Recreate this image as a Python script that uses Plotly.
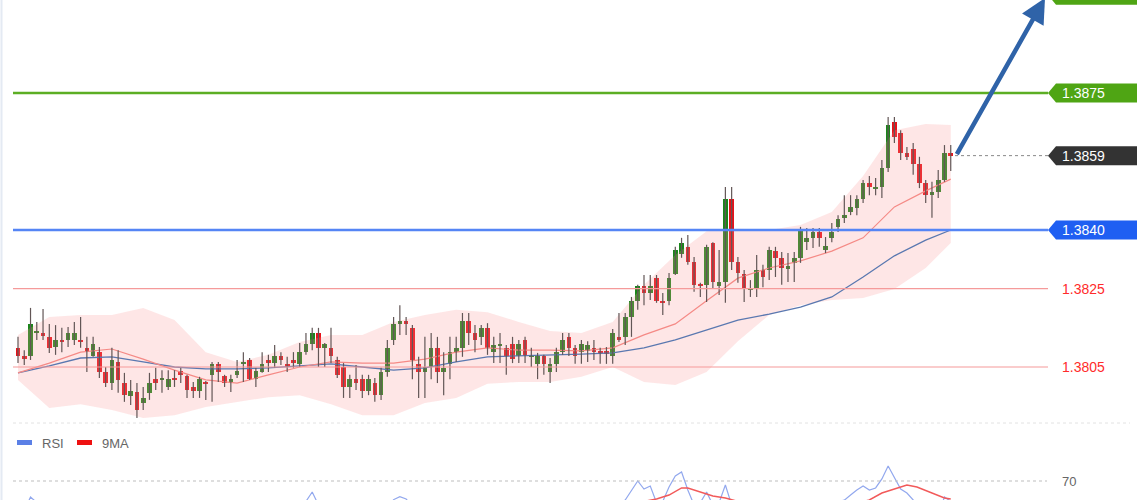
import plotly.graph_objects as go

# ---------------- data ----------------
open_ = [1.38099, 1.38078, 1.38078, 1.38137, 1.38137, 1.38127, 1.38101, 1.38119, 1.38119, 1.38119,
         1.38119, 1.38099, 1.38078, 1.38088, 1.38037, 1.38009, 1.38063, 1.38009, 1.37976, 1.37986,
         1.37958, 1.37984, 1.38019, 1.38019, 1.37999, 1.38022, 1.38040, 1.38027, 1.37999, 1.37989,
         1.38012, 1.38030, 1.38058, 1.38027, 1.38009, 1.38030, 1.38058, 1.38068, 1.38019, 1.38037,
         1.38068, 1.38060, 1.38078, 1.38058, 1.38068, 1.38058, 1.38088, 1.38109, 1.38137, 1.38099,
         1.38099, 1.38068, 1.38050, 1.37999, 1.38019, 1.38019, 1.37989, 1.38009, 1.37978, 1.38037,
         1.38119, 1.38160, 1.38168, 1.38150, 1.38058, 1.38037, 1.38050, 1.38099, 1.38037, 1.38058,
         1.38088, 1.38099, 1.38168, 1.38137, 1.38127, 1.38150, 1.38088, 1.38106, 1.38099, 1.38109,
         1.38078, 1.38119, 1.38076, 1.38058, 1.38078, 1.38037, 1.38058, 1.38088, 1.38127, 1.38099,
         1.38088, 1.38091, 1.38099, 1.38088, 1.38091, 1.38078, 1.38127, 1.38127, 1.38178, 1.38219,
         1.38257, 1.38239, 1.38277, 1.38219, 1.38219, 1.38288, 1.38339, 1.38357, 1.38318, 1.38260,
         1.38260, 1.38367, 1.38257, 1.38267, 1.38479, 1.38318, 1.38288, 1.38247, 1.38252, 1.38298,
         1.38298, 1.38346, 1.38329, 1.38300, 1.38316, 1.38329, 1.38369, 1.38380, 1.38395, 1.38349,
         1.38380, 1.38408, 1.38433, 1.38446, 1.38456, 1.38479, 1.38520, 1.38507, 1.38510, 1.38558,
         1.38676, 1.38648, 1.38597, 1.38607, 1.38569, 1.38520, 1.38489, 1.38497, 1.38528, 1.38598]
high_ = [1.38127, 1.38093, 1.38201, 1.38165, 1.38198, 1.38160, 1.38157, 1.38150, 1.38152, 1.38165,
         1.38178, 1.38127, 1.38127, 1.38101, 1.38050, 1.38099, 1.38093, 1.38035, 1.38017, 1.38009,
         1.37999, 1.38035, 1.38048, 1.38042, 1.38042, 1.38042, 1.38048, 1.38030, 1.38012, 1.38025,
         1.38014, 1.38063, 1.38063, 1.38030, 1.38030, 1.38068, 1.38088, 1.38073, 1.38048, 1.38088,
         1.38081, 1.38106, 1.38088, 1.38076, 1.38088, 1.38111, 1.38137, 1.38150, 1.38150, 1.38111,
         1.38150, 1.38076, 1.38060, 1.38030, 1.38055, 1.38030, 1.38030, 1.38022, 1.38048, 1.38119,
         1.38178, 1.38208, 1.38178, 1.38157, 1.38076, 1.38127, 1.38137, 1.38127, 1.38088, 1.38127,
         1.38127, 1.38188, 1.38188, 1.38157, 1.38157, 1.38162, 1.38127, 1.38137, 1.38106, 1.38127,
         1.38119, 1.38127, 1.38099, 1.38086, 1.38081, 1.38073, 1.38099, 1.38137, 1.38137, 1.38106,
         1.38119, 1.38116, 1.38119, 1.38099, 1.38101, 1.38147, 1.38188, 1.38188, 1.38229, 1.38260,
         1.38285, 1.38285, 1.38285, 1.38239, 1.38290, 1.38357, 1.38380, 1.38387, 1.38331, 1.38265,
         1.38362, 1.38369, 1.38349, 1.38510, 1.38510, 1.38331, 1.38298, 1.38272, 1.38336, 1.38311,
         1.38357, 1.38357, 1.38344, 1.38341, 1.38344, 1.38408, 1.38405, 1.38405, 1.38405, 1.38382,
         1.38418, 1.38438, 1.38489, 1.38489, 1.38489, 1.38528, 1.38538, 1.38533, 1.38579, 1.38689,
         1.38689, 1.38655, 1.38612, 1.38622, 1.38587, 1.38528, 1.38523, 1.38553, 1.38617, 1.38617]
low_ = [1.38060, 1.38055, 1.38068, 1.38119, 1.38119, 1.38086, 1.38081, 1.38088, 1.38101, 1.38106,
        1.38099, 1.38037, 1.38076, 1.38022, 1.37999, 1.37991, 1.37984, 1.37961, 1.37953, 1.37920,
        1.37940, 1.37966, 1.37991, 1.37984, 1.37991, 1.37999, 1.38009, 1.37971, 1.37971, 1.37971,
        1.37966, 1.37961, 1.38012, 1.37999, 1.37986, 1.38022, 1.38012, 1.38017, 1.37999, 1.38035,
        1.38037, 1.38048, 1.38055, 1.38037, 1.38048, 1.38050, 1.38081, 1.38093, 1.38050, 1.38050,
        1.38060, 1.38022, 1.37971, 1.37971, 1.37991, 1.37971, 1.37978, 1.37961, 1.37966, 1.38025,
        1.38106, 1.38132, 1.38132, 1.38019, 1.37971, 1.37971, 1.38019, 1.38009, 1.37978, 1.38019,
        1.38063, 1.38076, 1.38106, 1.38088, 1.38106, 1.38081, 1.38060, 1.38060, 1.38030, 1.38060,
        1.38060, 1.38060, 1.38050, 1.38019, 1.38030, 1.38009, 1.38037, 1.38081, 1.38078, 1.38058,
        1.38058, 1.38063, 1.38068, 1.38058, 1.38058, 1.38058, 1.38114, 1.38106, 1.38127, 1.38196,
        1.38208, 1.38221, 1.38214, 1.38183, 1.38208, 1.38285, 1.38329, 1.38311, 1.38242, 1.38229,
        1.38216, 1.38252, 1.38234, 1.38214, 1.38298, 1.38265, 1.38216, 1.38229, 1.38229, 1.38254,
        1.38272, 1.38280, 1.38260, 1.38267, 1.38267, 1.38316, 1.38349, 1.38354, 1.38357, 1.38341,
        1.38369, 1.38395, 1.38418, 1.38438, 1.38438, 1.38469, 1.38489, 1.38489, 1.38482, 1.38548,
        1.38622, 1.38579, 1.38579, 1.38541, 1.38507, 1.38469, 1.38431, 1.38482, 1.38523, 1.38551]
close_ = [1.38078, 1.38070, 1.38160, 1.38139, 1.38129, 1.38099, 1.38119, 1.38116, 1.38137, 1.38137,
          1.38116, 1.38088, 1.38109, 1.38037, 1.38009, 1.38068, 1.38017, 1.37978, 1.37989, 1.37940,
          1.37971, 1.38009, 1.38009, 1.38022, 1.38019, 1.38019, 1.38030, 1.37991, 1.37989, 1.38019,
          1.38009, 1.38058, 1.38037, 1.38009, 1.38019, 1.38040, 1.38060, 1.38019, 1.38040, 1.38058,
          1.38060, 1.38078, 1.38068, 1.38050, 1.38060, 1.38088, 1.38109, 1.38137, 1.38099, 1.38109,
          1.38078, 1.38030, 1.37999, 1.38019, 1.38009, 1.37989, 1.38019, 1.37978, 1.38037, 1.38099,
          1.38160, 1.38168, 1.38160, 1.38068, 1.38037, 1.38050, 1.38099, 1.38037, 1.38048, 1.38088,
          1.38099, 1.38168, 1.38137, 1.38119, 1.38150, 1.38099, 1.38106, 1.38109, 1.38078, 1.38070,
          1.38109, 1.38078, 1.38078, 1.38078, 1.38058, 1.38058, 1.38088, 1.38119, 1.38099, 1.38078,
          1.38109, 1.38106, 1.38088, 1.38086, 1.38083, 1.38137, 1.38119, 1.38178, 1.38219, 1.38257,
          1.38239, 1.38257, 1.38219, 1.38216, 1.38277, 1.38349, 1.38367, 1.38318, 1.38260, 1.38257,
          1.38357, 1.38267, 1.38267, 1.38479, 1.38318, 1.38290, 1.38249, 1.38249, 1.38298, 1.38280,
          1.38349, 1.38329, 1.38303, 1.38308, 1.38329, 1.38397, 1.38380, 1.38395, 1.38380, 1.38359,
          1.38395, 1.38428, 1.38438, 1.38459, 1.38479, 1.38520, 1.38510, 1.38510, 1.38558, 1.38668,
          1.38638, 1.38597, 1.38587, 1.38569, 1.38520, 1.38489, 1.38497, 1.38528, 1.38597, 1.38590]

# indicator lines, read at every 5th bar
band_idx = [0, 5, 10, 15, 20, 25, 30, 35, 40, 45, 50, 55, 60, 65, 70, 75, 80, 85, 90, 95,
            100, 105, 110, 115, 120, 125, 130, 135, 140, 145, 149]
band_upper = [1.38132, 1.38178, 1.38183, 1.38183, 1.38201, 1.38170, 1.38088, 1.38063, 1.38081, 1.38114,
              1.38132, 1.38132, 1.38165, 1.38183, 1.38196, 1.38190, 1.38165, 1.38142, 1.38137, 1.38165,
              1.38260, 1.38336, 1.38397, 1.38403, 1.38400, 1.38413, 1.38446, 1.38538, 1.38655, 1.38671,
              1.38668]
band_lower = [1.38017, 1.37945, 1.37955, 1.37940, 1.37920, 1.37927, 1.37948, 1.37961, 1.37973, 1.37978,
              1.37955, 1.37927, 1.37927, 1.37958, 1.37971, 1.38007, 1.38012, 1.38012, 1.38025, 1.38050,
              1.38012, 1.38004, 1.38037, 1.38116, 1.38183, 1.38208, 1.38221, 1.38226, 1.38249, 1.38303,
              1.38367]
ma_fast = [1.38035, 1.38060, 1.38088, 1.38096, 1.38070, 1.38042, 1.38017, 1.38009, 1.38030, 1.38050,
           1.38063, 1.38060, 1.38060, 1.38070, 1.38088, 1.38099, 1.38093, 1.38093, 1.38091, 1.38099,
           1.38132, 1.38160, 1.38219, 1.38277, 1.38303, 1.38321, 1.38346, 1.38380, 1.38459, 1.38500,
           1.38530]
ma_slow = [1.38035, 1.38053, 1.38073, 1.38076, 1.38063, 1.38050, 1.38045, 1.38045, 1.38048, 1.38053,
           1.38058, 1.38050, 1.38042, 1.38048, 1.38063, 1.38076, 1.38078, 1.38081, 1.38083, 1.38086,
           1.38099, 1.38119, 1.38145, 1.38170, 1.38185, 1.38203, 1.38229, 1.38280, 1.38334, 1.38374,
           1.38400]

rsi = [48, 45, 56.7, 52, 50, 46, 48, 47, 50, 51,
       49, 44, 47, 40, 36, 44, 40, 34, 37, 31,
       35, 42, 41, 42, 44, 45, 47, 42, 40, 44,
       44, 50, 47, 44, 45, 49, 51, 46, 49, 51,
       51, 53, 51, 49, 50, 52, 53, 60.8, 50, 52,
       50, 47, 42, 38, 43, 42, 39, 43, 40, 46,
       54.5, 57, 55, 49, 45, 47, 51, 46, 48, 50,
       51, 53, 53, 51, 50, 52, 48, 50, 50, 46,
       48, 49, 47, 48, 47, 46, 44, 47, 50, 49,
       47, 49, 49, 48, 48, 52, 51, 54.2, 62.5, 70,
       63.3, 65.8, 52, 53, 65, 74.2, 77.5, 62.5, 50, 52,
       60.8, 50, 52, 66.7, 50, 46, 42, 44, 48, 46,
       52, 48, 45, 46, 48, 53, 52, 53, 51, 46,
       51, 53, 54, 58.3, 62.5, 65.8, 62.5, 64.2, 71.7, 82.5,
       72.5, 63.3, 60, 54.2, 50, 44, 40, 42, 56.7, 53]
ma9_idx = [0, 20, 40, 60, 80, 95, 100, 102, 104, 106, 107, 109.5, 111, 113, 115, 125, 133, 136,
           138, 140, 142, 143.6, 147, 148, 149]
ma9 = [47, 42, 48, 48, 50, 50, 53, 55, 58.3, 64.2, 64.2, 60, 57.5, 55.8, 53, 48, 50, 54.2,
       60, 63.3, 66.7, 65, 57.5, 55.8, 55]

levels_green = [1.3875, 1.3900]
level_blue = 1.3840
levels_red = [1.3825, 1.3805]
last_price = 1.3859
rsi_level = 70

# ---------------- geometry helpers ----------------
W, H = 1140, 500
X_PX0, X_STEP = 18.0, 6.26          # pixel of first bar, pixels per bar
Y_REF_PX, Y_REF_P, PX_PER_P = 93.0, 1.3875, 39143.0
RSI_REF_PX, RSI_PX_PER = 481.0, 1.2

x_range = [(0 - X_PX0) / X_STEP, (W - X_PX0) / X_STEP]
y_range = [Y_REF_P - (H - Y_REF_PX) / PX_PER_P, Y_REF_P + Y_REF_PX / PX_PER_P]
r_range = [rsi_level - (H - RSI_REF_PX) / RSI_PX_PER, rsi_level + RSI_REF_PX / RSI_PX_PER]


def px(xp):
    return xp / W


def py(yp):
    return 1 - yp / H


idx = list(range(len(open_)))
GREEN_C, RED_C = "#1a861a", "#e8121a"

fig = go.Figure()

# Bollinger band fill
fig.add_trace(go.Scatter(x=band_idx, y=band_upper, mode="lines", line=dict(width=0, color="rgba(0,0,0,0)"),
                         hoverinfo="skip"))
fig.add_trace(go.Scatter(x=band_idx, y=band_lower, mode="lines", line=dict(width=0, color="rgba(0,0,0,0)"),
                         fill="tonexty", fillcolor="rgba(250,150,150,0.24)", hoverinfo="skip"))
# moving averages
fig.add_trace(go.Scatter(x=band_idx, y=ma_slow, mode="lines", line=dict(width=1.3, color="#5a78b0")))
fig.add_trace(go.Scatter(x=band_idx, y=ma_fast, mode="lines", line=dict(width=1.2, color="#f58a86")))

# wicks
wx, wy = [], []
for i in idx:
    wx += [i, i, None]
    wy += [low_[i], high_[i], None]
fig.add_trace(go.Scatter(x=wx, y=wy, mode="lines", line=dict(width=1.2, color="#625656"), hoverinfo="skip"))

# bodies
base = [min(o, c) for o, c in zip(open_, close_)]
hgt = [max(abs(c - o), 0.00003) for o, c in zip(open_, close_)]
cols = [GREEN_C if c >= o else RED_C for o, c in zip(open_, close_)]
fig.add_trace(go.Bar(x=idx, y=hgt, base=base, width=0.74, marker=dict(color=cols, line=dict(width=0))))

# RSI panel
fig.add_trace(go.Scatter(x=idx, y=rsi, mode="lines", yaxis="y2", line=dict(width=1.2, color="#92a8ee")))
fig.add_trace(go.Scatter(x=ma9_idx, y=ma9, mode="lines", yaxis="y2", line=dict(width=1.5, color="#f25a5a")))

shapes = []
LINE_X0, LINE_X1 = px(13), px(1048)
# red levels
for lv in levels_red:
    shapes.append(dict(type="line", xref="paper", yref="y", x0=LINE_X0, x1=LINE_X1, y0=lv, y1=lv,
                       line=dict(color="#f59a9a", width=1.2), layer="above"))
# green & blue levels
shapes.append(dict(type="line", xref="paper", yref="y", x0=LINE_X0, x1=LINE_X1, y0=levels_green[0],
                   y1=levels_green[0], line=dict(color="#5cae24", width=2.5), layer="above"))
shapes.append(dict(type="line", xref="paper", yref="y", x0=LINE_X0, x1=LINE_X1, y0=level_blue,
                   y1=level_blue, line=dict(color="#5585f5", width=2.5), layer="above"))
# last price dotted
shapes.append(dict(type="line", xref="paper", yref="y", x0=px(955), x1=px(1048), y0=last_price,
                   y1=last_price, line=dict(color="#888888", width=1, dash="dot"), layer="above"))
# separators (RSI)
shapes.append(dict(type="line", xref="paper", yref="paper", x0=px(13), x1=px(1130), y0=py(423), y1=py(423),
                   line=dict(color="#e2e2e2", width=1, dash="dot")))
shapes.append(dict(type="line", xref="paper", yref="y2", x0=px(13), x1=px(1047), y0=rsi_level, y1=rsi_level,
                   line=dict(color="#bdbdbd", width=1, dash="dot")))
# left border
shapes.append(dict(type="line", xref="paper", yref="paper", x0=px(1.5), x1=px(1.5), y0=0, y1=1,
                   line=dict(color="#e4eaf3", width=2)))

# price label boxes
HALF = 9.5 / PX_PER_P
TIP, BL, BR = px(1048), px(1056), px(1137)


def label_path(yc):
    return (f"M {TIP},{yc} L {BL},{yc + HALF} L {BR},{yc + HALF} "
            f"L {BR},{yc - HALF} L {BL},{yc - HALF} Z")


for yc, colr in [(levels_green[1], "#4fa514"), (levels_green[0], "#4fa514"),
                 (last_price, "#333333"), (level_blue, "#1f5ff2")]:
    shapes.append(dict(type="path", xref="paper", yref="y", path=label_path(yc),
                       fillcolor=colr, line=dict(width=0), layer="above"))

# legend swatches
shapes.append(dict(type="rect", xref="paper", yref="paper", x0=px(17), x1=px(32), y0=py(445), y1=py(440),
                   fillcolor="#5b80e6", line=dict(width=0)))
shapes.append(dict(type="rect", xref="paper", yref="paper", x0=px(77), x1=px(92), y0=py(445), y1=py(440),
                   fillcolor="#ee1111", line=dict(width=0)))

FONT = "Liberation Sans, Arial, sans-serif"
ann = []
for val, colr in [(levels_green[0], "white"), (last_price, "white"), (level_blue, "white")]:
    ann.append(dict(xref="paper", yref="y", x=px(1060), y=val, text=f"{val:.4f}", showarrow=False,
                    xanchor="left", yanchor="middle", font=dict(family=FONT, size=14, color=colr)))
for val in levels_red:
    ann.append(dict(xref="paper", yref="y", x=px(1060), y=val, text=f"{val:.4f}", showarrow=False,
                    xanchor="left", yanchor="middle", font=dict(family=FONT, size=14, color="#ff2b2b")))
ann.append(dict(xref="paper", yref="y2", x=px(1060), y=rsi_level, text=str(rsi_level), showarrow=False,
                xanchor="left", yanchor="middle", font=dict(family=FONT, size=13, color="#666666")))
ann.append(dict(xref="paper", yref="paper", x=px(40), y=py(443), text="RSI", showarrow=False,
                xanchor="left", yanchor="middle", font=dict(family=FONT, size=13, color="#666666")))
ann.append(dict(xref="paper", yref="paper", x=px(100), y=py(443), text="9MA", showarrow=False,
                xanchor="left", yanchor="middle", font=dict(family=FONT, size=13, color="#666666")))
# forecast arrow
ann.append(dict(xref="x", yref="y", axref="x", ayref="y",
                x=(1045 - X_PX0) / X_STEP, y=Y_REF_P + (Y_REF_PX + 2) / PX_PER_P,
                ax=(956 - X_PX0) / X_STEP, ay=last_price, text="", showarrow=True,
                arrowhead=2, arrowsize=1.1, arrowwidth=4.5, arrowcolor="#2f63a8", standoff=0))

fig.update_layout(
    width=W, height=H, margin=dict(l=0, r=0, t=0, b=0),
    paper_bgcolor="white", plot_bgcolor="white", showlegend=False,
    xaxis=dict(range=x_range, visible=False, fixedrange=True),
    yaxis=dict(range=y_range, visible=False, fixedrange=True),
    yaxis2=dict(range=r_range, visible=False, overlaying="y", fixedrange=True),
    shapes=shapes, annotations=ann, bargap=0,
)

# the page's default 8px body margin would shift the whole figure; remove it
fig.write_html("out.html", config={"displayModeBar": False},
               post_script="document.body.style.margin='0';document.body.style.overflow='hidden';")
